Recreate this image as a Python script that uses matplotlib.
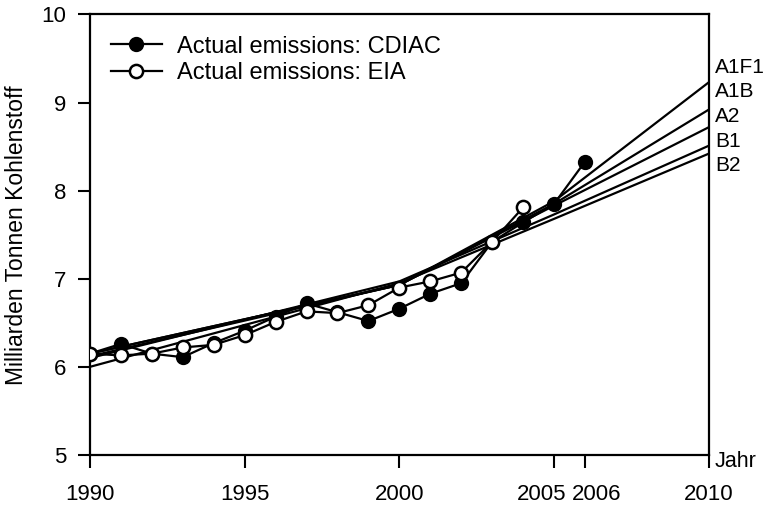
import matplotlib.pyplot as plt
import matplotlib.transforms as mtransforms
import numpy as np

plt.rcParams['font.family'] = ['Liberation Sans', 'DejaVu Sans']

# Actual emissions (Mrd. t C)
years_cdiac = np.arange(1990, 2007)
cdiac = [6.15, 6.26, 6.15, 6.11, 6.27, 6.41, 6.57, 6.72, 6.62, 6.52,
         6.66, 6.83, 6.95, 7.42, 7.64, 7.85, 8.33]
years_eia = np.arange(1990, 2005)
eia = [6.15, 6.13, 6.15, 6.22, 6.25, 6.36, 6.51, 6.63, 6.61, 6.70,
       6.90, 6.97, 7.07, 7.42, 7.81]

# IPCC SRES scenarios
scen_years = [1990, 2000, 2005, 2010]
scen_names = ['A1F1', 'A1B', 'A2', 'B1', 'B2']
scen_values = {
    'A1F1': [6.15, 6.93, 7.88, 9.23],
    'A1B':  [6.15, 6.93, 7.85, 8.92],
    'A2':   [6.12, 6.93, 7.83, 8.72],
    'B1':   [6.10, 6.97, 7.73, 8.51],
    'B2':   [6.00, 6.95, 7.68, 8.42],
}

xticks = [1990, 1995, 2000, 2005, 2006, 2010]

fig = plt.figure(figsize=(7.68, 5.07), dpi=100)
ax = fig.add_axes([0.117, 0.1026, 0.806, 0.869])

for name in scen_names:
    ax.plot(scen_years, scen_values[name], c='k', lw=1.6, zorder=2)

ax.plot(years_cdiac, cdiac, c='k', lw=1.6, marker='o', ms=9.5,
        mfc='k', mec='k', mew=1.5, label='Actual emissions: CDIAC', zorder=3)
ax.plot(years_eia, eia, c='k', lw=1.6, marker='o', ms=9.5,
        mfc='white', mec='k', mew=1.8, label='Actual emissions: EIA', zorder=4)

# scenario labels to the right of the plot
for i, name in enumerate(scen_names):
    ax.text(2010.2, 9.40 - 0.28 * i, name, fontsize=15, va='center', ha='left')

ax.set_xlim(1990, 2010)
ax.set_ylim(5, 10)
ax.set_xticks(xticks)
ax.set_yticks([5, 6, 7, 8, 9, 10])
ax.tick_params(axis='x', direction='out', length=9, width=1.5, pad=12, labelsize=16)
ax.tick_params(axis='y', direction='out', length=9, width=1.5, pad=8, labelsize=16)
for s in ax.spines.values():
    s.set_linewidth(1.6)

# push 2005 / 2006 labels apart so they don't collide
for lab in ax.get_xticklabels():
    if lab.get_text() == '2005':
        lab.set_transform(lab.get_transform() + mtransforms.ScaledTranslation(-12/100, 0, fig.dpi_scale_trans))
    if lab.get_text() == '2006':
        lab.set_transform(lab.get_transform() + mtransforms.ScaledTranslation(12/100, 0, fig.dpi_scale_trans))

ax.set_ylabel('Milliarden Tonnen Kohlenstoff', fontsize=16.5)
ax.yaxis.set_label_coords(-0.1, 0.5)
ax.text(2010.2, 4.93, 'Jahr', fontsize=15.5, va='center', ha='left')

ax.legend(loc='upper left', frameon=False, fontsize=17, handlelength=2.15,
          handletextpad=0.65, borderaxespad=0.5, labelspacing=0.2,
          bbox_to_anchor=(0.0, 1.0))

plt.savefig('out.png', dpi=100)
